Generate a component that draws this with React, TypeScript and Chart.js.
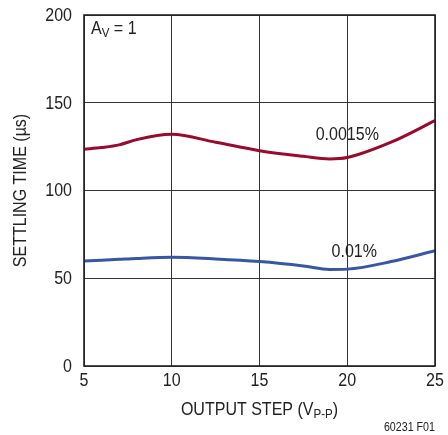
import React, { useEffect, useRef } from "react";
import { Chart, registerables } from "chart.js";

Chart.register(...registerables);

const xStep = [5, 6, 7, 8, 10, 12.5, 15, 17.5, 19, 20, 22.5, 25];
const precise = [123.5, 124.5, 126, 129, 132, 127.5, 122.7, 119.5, 118, 118.8, 127.5, 139.8];
const coarse = [59.8, 60.3, 60.8, 61.3, 61.9, 61, 59.5, 57, 55, 55.2, 59.5, 65.7];
const xTicks = [5, 10, 15, 20, 25];
const yTicks = [0, 50, 100, 150, 200];
const seriesLabels = ["0.0015%", "0.01%"];
const labelPos = [
  { x: 20, y: 131.5 },
  { x: 20.4, y: 65 },
];

const FONT = "'Liberation Sans', Arial, sans-serif";
const TEXT = "#222";
const BIG = 18;
const SUB = 13;
const K = 0.89; // horizontal compression to mimic a condensed face

function txt(ctx: any, s: string, x: number, y: number, size: number, align: string) {
  ctx.save();
  ctx.font = `${size}px ${FONT}`;
  ctx.textAlign = align;
  ctx.translate(x, y);
  ctx.scale(K, 1);
  ctx.fillText(s, 0, 0);
  ctx.restore();
}
function w(ctx: any, s: string, size: number) {
  ctx.font = `${size}px ${FONT}`;
  return ctx.measureText(s).width * K;
}
function rich(ctx: any, parts: [string, boolean][], x: number, y: number, align: "left" | "center") {
  const widths = parts.map(([s, sub]) => w(ctx, s, sub ? SUB : BIG));
  const total = widths.reduce((a, b) => a + b, 0);
  let cx = align === "center" ? x - total / 2 : x;
  parts.forEach(([s, sub], i) => {
    txt(ctx, s, cx, sub ? y + 4 : y, sub ? SUB : BIG, "left");
    cx += widths[i];
  });
}

const textPlugin = {
  id: "textPlugin",
  afterDraw(chart: any) {
    const { ctx, chartArea } = chart;
    const xs = chart.scales.x;
    const ys = chart.scales.y;
    ctx.save();
    ctx.strokeStyle = "#222";
    ctx.lineWidth = 1.6;
    ctx.strokeRect(chartArea.left, chartArea.top, chartArea.right - chartArea.left, chartArea.bottom - chartArea.top);

    ctx.fillStyle = TEXT;
    ctx.textBaseline = "middle";

    yTicks.forEach((v) => txt(ctx, String(v), chartArea.left - 12, ys.getPixelForValue(v) + 1, BIG, "right"));
    xTicks.forEach((v) => txt(ctx, String(v), xs.getPixelForValue(v), chartArea.bottom + 15, BIG, "center"));

    seriesLabels.forEach((t, i) => {
      txt(ctx, t, xs.getPixelForValue(labelPos[i].x), ys.getPixelForValue(labelPos[i].y), BIG, "center");
    });

    rich(ctx, [["A", false], ["V", true], [" = 1", false]], chartArea.left + 7, chartArea.top + 14, "left");

    rich(ctx, [["OUTPUT STEP (V", false], ["P-P", true], [")", false]], (chartArea.left + chartArea.right) / 2, 410, "center");

    ctx.save();
    ctx.translate(21, (chartArea.top + chartArea.bottom) / 2);
    ctx.rotate(-Math.PI / 2);
    txt(ctx, "SETTLING TIME (µs)", 0, 0, BIG, "center");
    ctx.restore();

    txt(ctx, "60231 F01", 435, 428, 12, "right");
    ctx.restore();
  },
};

export default function App() {
  const ref = useRef<HTMLCanvasElement | null>(null);
  useEffect(() => {
    document.body.style.margin = "0";
    const chart = new Chart(ref.current as HTMLCanvasElement, {
      type: "line",
      data: {
        datasets: [
          {
            label: seriesLabels[0],
            data: xStep.map((x, i) => ({ x, y: precise[i] })),
            borderColor: "#9a0a2e",
            borderWidth: 3,
            pointRadius: 0,
            cubicInterpolationMode: "monotone",
            fill: false,
          },
          {
            label: seriesLabels[1],
            data: xStep.map((x, i) => ({ x, y: coarse[i] })),
            borderColor: "#3757a6",
            borderWidth: 3,
            pointRadius: 0,
            cubicInterpolationMode: "monotone",
            fill: false,
          },
        ],
      },
      options: {
        animation: false,
        responsive: false,
        events: [],
        layout: { padding: { left: 0, right: 13, top: 15, bottom: 0 } },
        plugins: { legend: { display: false }, tooltip: { enabled: false }, title: { display: false } },
        scales: {
          x: {
            type: "linear",
            min: 5,
            max: 25,
            afterBuildTicks: (s: any) => {
              s.ticks = xTicks.map((v) => ({ value: v }));
            },
            afterFit: (s: any) => {
              s.height = 69;
              s.paddingLeft = 0;
              s.paddingRight = 0;
            },
            grid: { color: "#333", lineWidth: 1, drawTicks: false },
            border: { display: false },
            ticks: { display: false },
          },
          y: {
            type: "linear",
            min: 0,
            max: 200,
            afterBuildTicks: (s: any) => {
              s.ticks = yTicks.map((v) => ({ value: v }));
            },
            afterFit: (s: any) => {
              s.width = 84;
              s.paddingTop = 0;
              s.paddingBottom = 0;
            },
            grid: { color: "#333", lineWidth: 1, drawTicks: false },
            border: { display: false },
            ticks: { display: false },
          },
        },
      },
      plugins: [textPlugin],
    } as any);
    return () => chart.destroy();
  }, []);
  return (
    <div style={{ position: "absolute", left: 0, top: 0, width: 448, height: 435 }}>
      <canvas ref={ref} width={448} height={435} style={{ width: 448, height: 435 }} />
    </div>
  );
}
